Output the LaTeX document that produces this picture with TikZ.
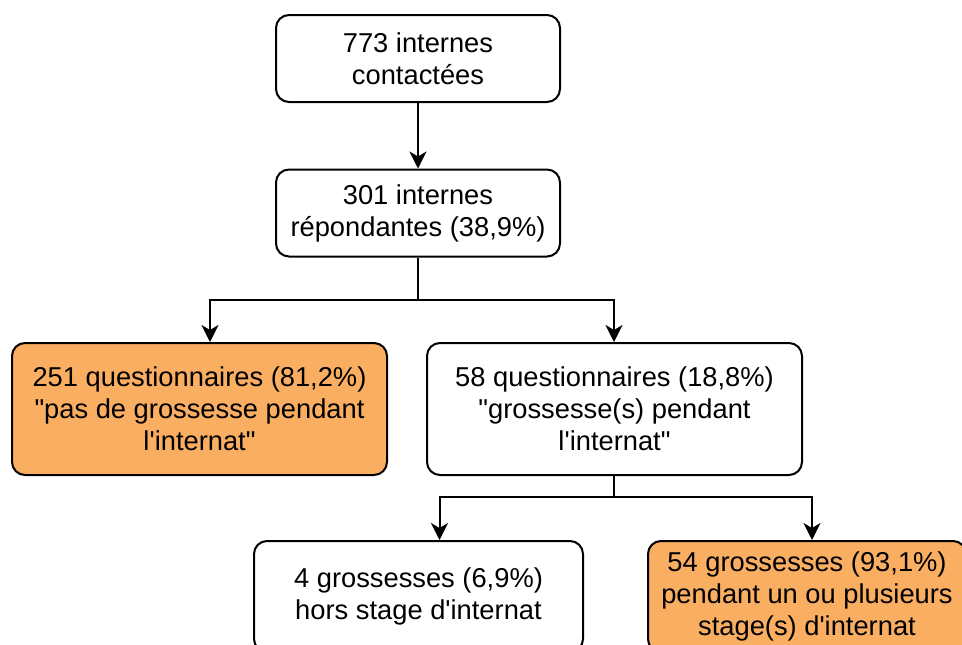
\documentclass[tikz,border=0pt]{standalone}
\usepackage{fontspec}
\setmainfont{Liberation Sans}
\usetikzlibrary{
  arrows.meta,
  positioning,
}
\definecolor{boxorange}{HTML}{F9AE62}
\newcommand{\ap}{\textquotesingle}
\newcommand{\qd}{\textquotedbl}
\tikzset{
  font=\fontsize{27.3}{32}\selectfont,
  >={Stealth[length=17pt,width=17pt,inset=5pt]},
  my box/.style={
    draw,
    line width=2pt,
    rectangle,
    rounded corners=13pt,
    align=center,
    inner sep=0pt
  },
  my top box/.style={
    my box,
    minimum width=284pt,
    minimum height=87pt
  },
  my mid box/.style={
    my box,
    minimum width=375pt,
    minimum height=132pt
  },
  my low box/.style={
    my box,
    minimum height=111pt
  },
  hl/.style={
    fill=boxorange
  },
  flow/.style={
    ->,
    line width=2pt
  }
}
\begin{document}
\begin{tikzpicture}[x=1pt,y=-1pt]
\useasboundingbox (0,0) rectangle (962,645);
\clip (0,0) rectangle (962,645);
\node[my top box] (contact) at (418,58.5) {773 internes\\contactées};
\node[my top box] (resp) at (418,213) {301 internes\\répondantes (38,9\%)};
\node[my mid box,hl] (nogross) at (199.5,409) {251 questionnaires (81,2\%)\\\qd pas de grossesse pendant\\l\ap internat\qd};
\node[my mid box] (gross) at (614.5,409) {58 questionnaires (18,8\%)\\\qd grossesse(s) pendant\\l\ap internat\qd};
\node[my low box,minimum width=329pt] (hors) at (418.5,596.5) {4 grossesses (6,9\%)\\hors stage d\ap internat};
\node[my low box,minimum width=318pt,hl] (stage) at (807,596.5) {54 grossesses (93,1\%)\\pendant un ou plusieurs\\stage(s) d\ap internat};
\coordinate (fork1) at (418,300);
\coordinate (fork2) at (614,497);
\draw[flow] (contact) -- (resp);
\draw[flow] (resp) -- (fork1) -| ([xshift=10.5pt]nogross.north);
\draw[flow] (fork1) -| ([xshift=-0.5pt]gross.north);
\draw[flow] ([xshift=-0.5pt]gross.south) -- (fork2) -| ([xshift=21pt]hors.north);
\draw[flow] (fork2) -| ([xshift=5pt]stage.north);
\end{tikzpicture}
\end{document}
